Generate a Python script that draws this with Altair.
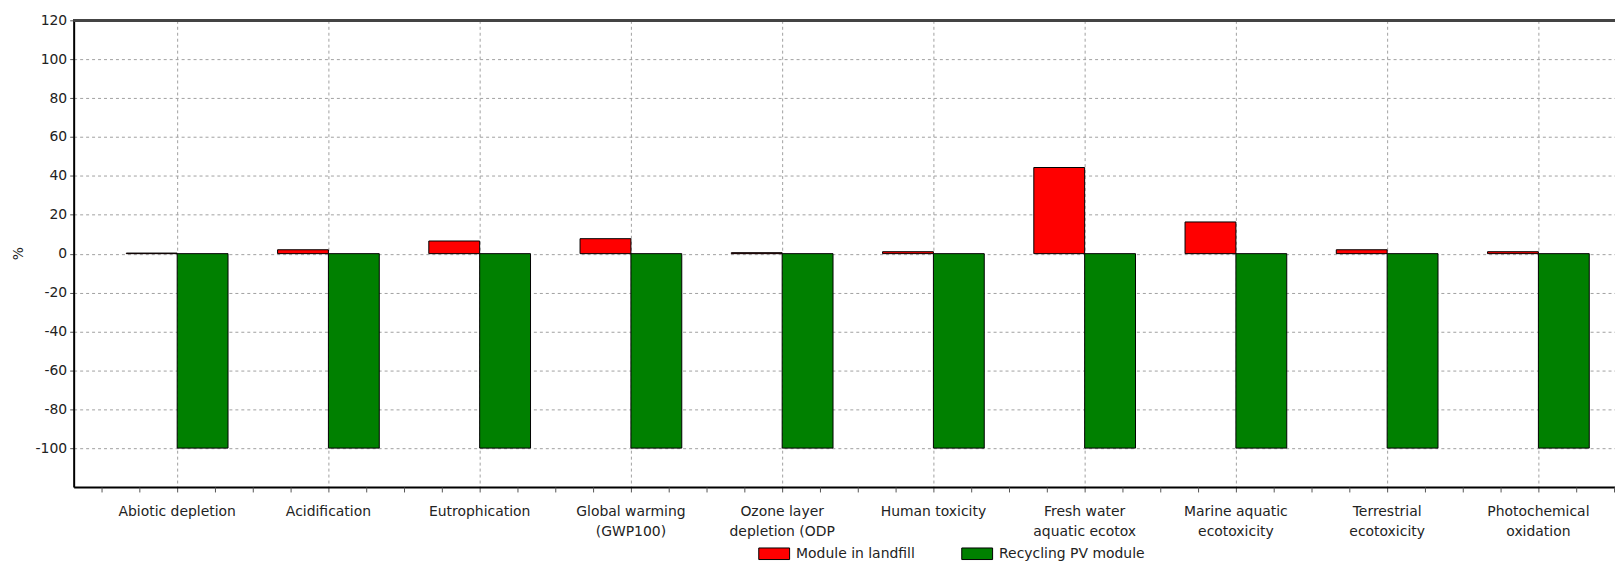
import altair as alt
import pandas as pd

categories = [
    "Abiotic depletion",
    "Acidification",
    "Eutrophication",
    "Global warming|(GWP100)",
    "Ozone layer|depletion (ODP",
    "Human toxicity",
    "Fresh water|aquatic ecotox",
    "Marine aquatic|ecotoxicity",
    "Terrestrial|ecotoxicity",
    "Photochemical|oxidation",
]
landfill = [0.3, 2.0, 6.5, 7.7, 0.5, 1.0, 44.3, 16.3, 2.0, 1.0]
recycling = [-100, -100, -100, -100, -100, -100, -100, -100, -100, -100]
series_names = ["Module in landfill", "Recycling PV module"]
series_colors = ["#ff0000", "#008000"]
y_ticks = [-100, -80, -60, -40, -20, 0, 20, 40, 60, 80, 100, 120]
# minor x-axis tick positions, in category-index units (quarter steps)
minor_ticks = [-0.5, -0.25, 0.25, 0.5, 0.75, 1.25, 1.5, 1.75, 2.25, 2.5, 2.75,
               3.25, 3.5, 3.75, 4.25, 4.5, 4.75, 5.25, 5.5, 5.75, 6.25, 6.5,
               6.75, 7.25, 7.5, 7.75, 8.25, 8.5, 8.75, 9.25, 9.5]

rows = []
for c, a, b in zip(categories, landfill, recycling):
    rows.append({"category": c, "series": series_names[0], "value": a})
    rows.append({"category": c, "series": series_names[1], "value": b})
df = pd.DataFrame(rows)

FONT = "DejaVu Sans"
W = 1549
STEP_PO = 0.0954
ALIGN = 0.966

bars = alt.Chart(df).mark_bar(stroke="black", strokeWidth=1).encode(
    x=alt.X(
        "category:N",
        sort=categories,
        scale=alt.Scale(paddingInner=0, paddingOuter=STEP_PO, align=ALIGN, round=False),
        axis=alt.Axis(
            title=None,
            labelExpr="split(datum.label, '|')",
            labelAngle=0,
            labelLineHeight=20,
            labelFontSize=14,
            labelFont=FONT,
            labelColor="#222222",
            labelPadding=13,
            labelLimit=400,
            tickSize=5,
            tickColor="#555555",
            domainColor="black",
            domainWidth=2,
            grid=True,
            gridDash=[3, 3],
            gridColor="#a0a0a0",
            bandPosition=0.5,
        ),
    ),
    xOffset=alt.XOffset(
        "series:N",
        sort=series_names,
        scale=alt.Scale(paddingInner=0, paddingOuter=0.487, round=False),
    ),
    y=alt.Y(
        "value:Q",
        scale=alt.Scale(domain=[-120, 120], nice=False),
        axis=alt.Axis(
            values=y_ticks,
            labelExpr="'' + datum.value",
            title="%",
            titleFont=FONT,
            titleFontSize=14,
            titleFontWeight="normal",
            titleColor="#222222",
            titleAngle=270,
            titleX=-55,
            titleY=234,
            titleAlign="center",
            titleBaseline="middle",
            labelFontSize=14,
            labelFont=FONT,
            labelColor="#222222",
            labelPadding=3,
            tickSize=4,
            tickColor="#555555",
            domainColor="black",
            domainWidth=2,
            grid=True,
            gridDash=[3, 3],
            gridColor="#a0a0a0",
        ),
    ),
    color=alt.Color(
        "series:N",
        sort=series_names,
        scale=alt.Scale(domain=series_names, range=series_colors),
        legend=alt.Legend(
            title=None,
            orient="none",
            legendX=688,
            legendY=520,
            direction="horizontal",
            symbolType="M-1,-0.375H1V0.375H-1Z",
            symbolSize=961,
            symbolStrokeColor="black",
            symbolStrokeWidth=1,
            symbolOpacity=1,
            labelFont=FONT,
            labelFontSize=14,
            labelColor="#222222",
            labelOffset=6,
            columnPadding=44,
            padding=0,
        ),
    ),
)

# domain of the minor-tick scale in category-index units matching the band scale
n = len(categories)
step = W / (n + 2 * STEP_PO)
start = (W - step * n) * ALIGN
dmin = -(start + step / 2) / step
dmax = (W - start - step / 2) / step

minor = alt.Chart(df).mark_point(opacity=0).encode(
    x=alt.X(
        datum=0,
        type="quantitative",
        scale=alt.Scale(domain=[dmin, dmax], nice=False, zero=False),
        axis=alt.Axis(
            orient="bottom",
            values=minor_ticks,
            labels=False,
            domain=False,
            grid=False,
            tickSize=5,
            tickColor="#555555",
            title=None,
        ),
    ),
    y=alt.datum(0),
)

top_line = alt.Chart(df).mark_rule(color="#444444", strokeWidth=2).encode(
    y=alt.datum(120)
)

chart = (
    alt.layer(bars, top_line, minor)
    .resolve_scale(x="independent")
    .resolve_axis(x="independent")
    .properties(
        width=W,
        height=469,
        autosize=alt.AutoSizeParams(type="none"),
        padding={"left": 66, "top": 11, "right": 0, "bottom": 73},
    )
    .configure_view(stroke=None)
    .configure(background="white")
)

chart.save("out.html", embed_options={"renderer": "svg", "actions": False})
